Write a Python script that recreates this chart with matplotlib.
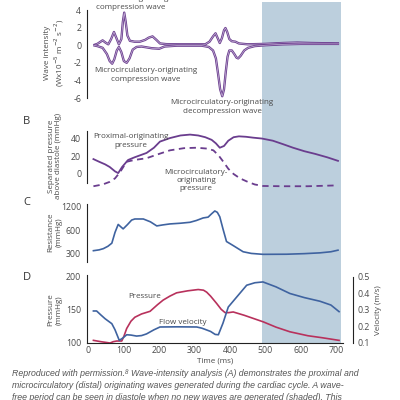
import matplotlib

matplotlib.use("Agg")
import matplotlib.pyplot as plt
from matplotlib.patches import Rectangle
from matplotlib.transforms import blended_transform_factory

plt.rcParams["font.family"] = ["Open Sans", "DejaVu Sans"]
plt.rcParams["axes.unicode_minus"] = False

# Panel A: wave intensity (x10^5 W m-2 s-2)
wave_up_t = [14, 25, 40, 48, 56, 64, 72, 79, 86, 93, 97, 101, 105, 110, 117, 130, 145,
             160, 170, 181, 192, 202, 220, 260, 330, 342, 352, 359, 365, 371, 377, 383,
             387, 392, 398, 405, 415, 425, 450, 500, 550, 590, 630, 700, 708]
wave_up = [0, 0.15, 0.55, 0.3, 0.1, 0.7, 1.5, 0.8, 0.1, 0.7, 2.6, 3.7, 2.7, 1.1, 0.5, 0.4, 0.4,
           0.6, 0.85, 1.0, 0.6, 0.2, 0.12, 0.1, 0.1, 0.4, 1.0, 1.35, 0.8, 0.25, 0.8, 1.7,
           1.95, 1.5, 0.7, 0.45, 0.4, 0.2, 0.1, 0.15, 0.25, 0.3, 0.25, 0.2, 0.2]

wave_dn_t = [14, 25, 40, 52, 60, 67, 73, 80, 86, 93, 100, 108, 116, 125, 136, 150, 165,
             180, 200, 215, 250, 320, 340, 352, 360, 366, 372, 378, 383, 388, 393, 398,
             405, 412, 418, 423, 430, 440, 451, 470, 500, 550, 600, 650, 708]
wave_dn = [0, -0.1, -0.3, -1.0, -1.8, -2.1, -1.6, -0.6, -0.2, -0.8, -1.8, -2.0, -1.5, -0.5,
           -0.2, -0.15, -0.25, -0.35, -0.4, -0.15, -0.05, -0.05, -0.2, -0.6, -1.5, -3.2,
           -5.0, -5.8, -5.0, -3.0, -1.3, -0.6, -0.6, -1.0, -1.4, -1.5, -1.2, -0.6, -0.3,
           -0.1, 0.0, 0.1, 0.15, 0.15, 0.15]

# Panel B: separated pressure above diastole (mmHg)
prox_t = [14, 30, 47, 60, 75, 84, 95, 112, 130, 164, 185, 202, 230, 260, 287, 310, 330,
          348, 360, 371, 383, 395, 410, 425, 445, 465, 490, 521, 550, 578, 610, 640, 675, 705]
prox_p = [17, 14, 11, 8, 3, 1, 8, 16, 19, 24, 30, 37, 41, 44, 45, 44, 42,
          39, 35, 30, 32, 38, 42, 43, 42.5, 41.5, 40.5, 38, 34, 30, 26, 23, 19, 15]

micro_t = [14, 40, 60, 75, 89, 100, 108, 130, 164, 200, 230, 270, 306, 335, 353, 368,
           381, 395, 410, 428, 450, 470, 493, 550, 620, 705]
micro_p = [-14, -12, -9, -5, 2, 9, 14, 16, 18, 23, 27, 29.5, 30, 29, 27, 21,
           14, 6, 0, -5, -9, -12, -13.7, -14, -14, -13]

# Panel C: resistance (mmHg)
res_t = [14, 30, 42, 55, 66, 75, 84, 91, 98, 110, 122, 131, 155, 175, 193, 210, 230, 260,
         287, 305, 324, 338, 348, 357, 364, 371, 380, 390, 410, 437, 460, 493, 560, 610,
         654, 685, 705]
res = [330, 338, 350, 375, 410, 560, 705, 660, 620, 700, 800, 825, 825, 760, 675, 695, 715,
       730, 750, 790, 850, 870, 960, 1040, 1000, 880, 620, 430, 380, 320, 305, 297, 298,
       303, 310, 320, 335]

# Panel D: pressure (mmHg) and flow velocity (m/s)
pres_t = [14, 35, 61, 70, 80, 94, 100, 108, 120, 131, 150, 174, 195, 211, 230, 249, 280,
          310, 325, 334, 345, 362, 375, 386, 396, 409, 440, 494, 530, 569, 620, 660, 708]
pres = [104, 102, 100, 102, 103, 103, 110, 122, 133, 139, 144, 148, 158, 165, 171, 176, 179,
        181, 180, 177, 171, 160, 151, 146, 146, 147, 142, 132, 124, 117, 111, 108, 104]

vel_t = [14, 23, 35, 47, 66, 75, 87, 97, 108, 120, 136, 150, 164, 185, 202, 250, 306, 320,
         329, 345, 358, 367, 380, 395, 419, 447, 470, 493, 530, 569, 610, 654, 685, 708]
vel = [0.294, 0.294, 0.27, 0.247, 0.217, 0.18, 0.116, 0.13, 0.15, 0.148, 0.142, 0.145,
       0.155, 0.18, 0.197, 0.198, 0.197, 0.19, 0.183, 0.17, 0.152, 0.15, 0.22, 0.318,
       0.379, 0.45, 0.465, 0.47, 0.44, 0.4, 0.375, 0.353, 0.33, 0.29]

wave_free = (490, 713)
time_ticks = [0, 100, 200, 300, 400, 500, 600, 700]

PURPLE = "#6a3d8e"
PURPLE_LIGHT = "#c7b4d8"
BLUE = "#3f63a0"
RED = "#b8315c"
SHADE = "#bccfdd"
TEXT = "#4a4a4a"
TICK_FS = 6.3
LABEL_FS = 5.8

W = H = 400
fig = plt.figure(figsize=(4, 4), dpi=100)


def px_axes(top, bottom, left=86.7, right=343.3):
    ax = fig.add_axes([left / W, 1 - bottom / H, (right - left) / W, (bottom - top) / H])
    ax.set_facecolor("none")
    ax.set_xlim(-5, 720)
    for side in ("top", "right", "bottom"):
        ax.spines[side].set_visible(False)
    ax.spines["left"].set_color("#222222")
    ax.spines["left"].set_linewidth(0.8)
    ax.tick_params(length=0, labelsize=TICK_FS, labelcolor=TEXT, pad=4)
    ax.set_xticks([])
    return ax


def fig_text(x, y, s, **kw):
    kw.setdefault("fontsize", LABEL_FS)
    kw.setdefault("color", TEXT)
    kw.setdefault("ha", "center")
    kw.setdefault("va", "center")
    fig.text(x / W, 1 - y / H, s, **kw)


# A
ax_a = px_axes(10, 98)
ax_a.set_ylim(-6, 4)
ax_a.set_yticks([4, 2, 0, -2, -4, -6])
for t, v in ((wave_up_t, wave_up), (wave_dn_t, wave_dn)):
    ax_a.plot(t, v, color=PURPLE, lw=1.7, solid_capstyle="butt", clip_on=False)
    ax_a.plot(t, v, color=PURPLE_LIGHT, lw=0.5, solid_capstyle="butt", clip_on=False)

# B
ax_b = px_axes(131, 183)
ax_b.set_ylim(-10.3, 49.1)
ax_b.set_yticks([0, 20, 40])
ax_b.plot(prox_t, prox_p, color=PURPLE, lw=1.3, clip_on=False)
ax_b.plot(micro_t, micro_p, color=PURPLE, lw=1.3, ls=(0, (3.5, 2.5)), clip_on=False)

# C
ax_c = px_axes(204, 262)
ax_c.set_yscale("log")
ax_c.set_ylim(238, 1272)
ax_c.set_yticks([300, 600, 1200])
ax_c.set_yticklabels(["300", "600", "1200"])
ax_c.minorticks_off()
ax_c.plot(res_t, res, color=BLUE, lw=1.2)

# D
ax_d = px_axes(275, 343)
ax_d.spines["bottom"].set_visible(True)
ax_d.spines["bottom"].set_color("#222222")
ax_d.spines["bottom"].set_linewidth(0.8)
ax_d.set_ylim(100, 203)
ax_d.set_yticks([100, 150, 200])
ax_d.set_xticks(time_ticks)
ax_d.tick_params(axis="x", pad=2.5)
ax_d.plot(pres_t, pres, color=RED, lw=1.2)

ax_v = ax_d.twinx()
ax_v.set_facecolor("none")
ax_v.set_ylim(0.1, 0.512)
ax_v.set_yticks([0.1, 0.2, 0.3, 0.4, 0.5])
for side in ("top", "left", "bottom"):
    ax_v.spines[side].set_visible(False)
ax_v.spines["right"].set_position(("outward", 7))
ax_v.spines["right"].set_bounds(0.1, 0.5)
ax_v.spines["right"].set_color("#222222")
ax_v.spines["right"].set_linewidth(0.8)
ax_v.tick_params(length=0, labelsize=TICK_FS, labelcolor=TEXT, pad=3)
ax_v.plot(vel_t, vel, color=BLUE, lw=1.2)

# wave-free period shading across all panels
trans = blended_transform_factory(ax_d.transData, fig.transFigure)
fig.patches.append(Rectangle((wave_free[0], 1 - 343 / H), wave_free[1] - wave_free[0],
                             (343 - 2) / H, transform=trans, facecolor=SHADE,
                             edgecolor="none", zorder=-1))

# panel letters
for letter, y in (("A", -3), ("B", 121), ("C", 203), ("D", 277)):
    fig_text(27, y, letter, fontsize=8, color="#333333")

# axis titles
fig_text(55, 53, "Wave intensity\n(Wx10$^{-5}$ m$^{-2}$ s$^{-2}$)", rotation=90, linespacing=1.15)
fig_text(55, 156, "Separated pressure\nabove diastole (mmHg)", rotation=90, linespacing=1.15)
fig_text(55, 232, "Resistance\n(mmHg)", rotation=90, linespacing=1.15)
fig_text(55, 310, "Pressure\n(mmHg)", rotation=90, linespacing=1.15)
fig_text(378, 310, "Velocity (m/s)", rotation=90)
fig_text(215, 361, "Time (ms)")

# annotations
fig_text(131, 3, "Proximal-originating\ncompression wave", linespacing=1.25)
fig_text(146, 75, "Microcirculatory-originating\ncompression wave", linespacing=1.25)
fig_text(222, 107, "Microcirculatory-originating\ndecompression wave", linespacing=1.25)
fig_text(131, 141, "Proximal-originating\npressure", linespacing=1.25)
fig_text(196, 181, "Microcirculatory-\noriginating\npressure", linespacing=1.2)
fig_text(145, 297, "Pressure")
fig_text(183, 322, "Flow velocity")

# caption
caption = ["Reproduced with permission.\u2078 Wave-intensity analysis (A) demonstrates the proximal and",
           "microcirculatory (distal) originating waves generated during the cardiac cycle. A wave-",
           "free period can be seen in diastole when no new waves are generated (shaded). This"]
for i, line in enumerate(caption):
    fig.text(12 / W, 1 - (373 + 12.3 * i) / H, line, fontsize=6.3, style="italic",
             color="#555555", family=["Liberation Sans", "DejaVu Sans"], ha="left", va="center")

fig.savefig("out.png", dpi=100)
plt.close(fig)
